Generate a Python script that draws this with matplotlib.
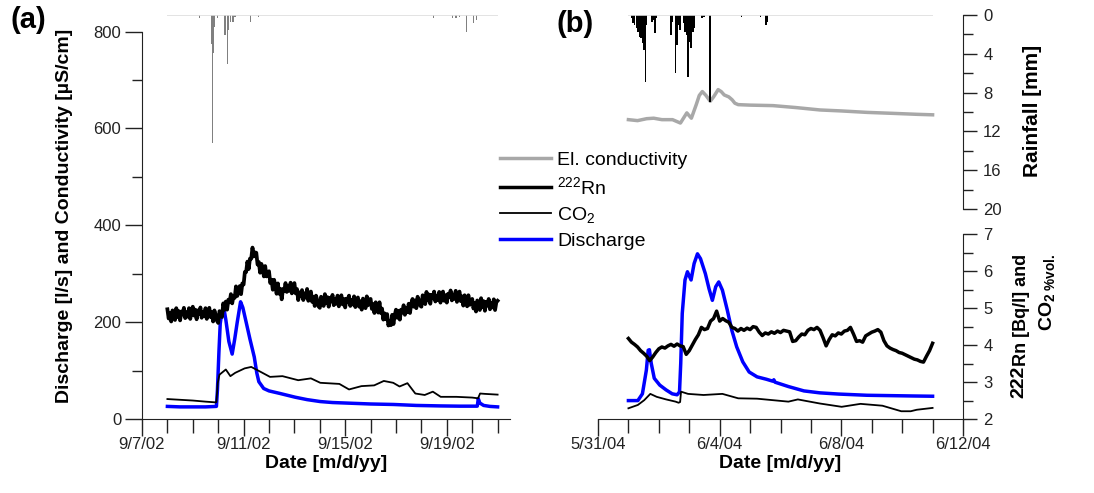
import matplotlib
matplotlib.use('Agg')
import matplotlib.pyplot as plt
from matplotlib.ticker import MultipleLocator, FixedLocator, NullLocator
import numpy as np

plt.rcParams['font.family'] = ['Liberation Sans', 'DejaVu Sans']
plt.rcParams['mathtext.fontset'] = 'custom'
plt.rcParams['mathtext.rm'] = 'Liberation Sans'
plt.rcParams['mathtext.bf'] = 'Liberation Sans:bold'
plt.rcParams['mathtext.it'] = 'Liberation Sans:italic'

# ---------------- data (a) : September 2002, x = day of month ----------------
a_ticks = [7, 11, 15, 19]
a_ticklabels = ['9/7/02', '9/11/02', '9/15/02', '9/19/02']

# Rn [Bq/l], every 0.05 day from 9/8.00 to 9/21.00 (one row per day)
rn_a_t = np.round(np.arange(8.0, 21.001, 0.05), 2)
rn_a = [4.97, 4.72, 4.87, 4.64, 4.94, 4.84, 4.68, 5.00, 4.76, 4.92, 4.67, 4.91, 4.83, 5.01, 4.73, 4.89, 4.77, 5.00, 4.71, 4.92,
        5.04, 4.80, 4.96, 4.70, 4.94, 4.84, 5.02, 4.74, 4.90, 4.78, 5.00, 4.71, 4.92, 5.01, 4.76, 4.89, 4.64, 4.94, 4.82, 4.66,
        4.60, 4.92, 4.87, 4.76, 5.13, 4.96, 5.18, 4.96, 5.23, 5.16, 5.38, 5.13, 5.32, 5.28, 5.59, 5.33, 5.51, 5.60, 5.38, 5.67,
        5.64, 5.98, 5.98, 6.26, 6.06, 6.34, 6.34, 6.64, 6.40, 6.51, 6.50, 6.18, 6.25, 5.96, 6.20, 6.06, 5.86, 6.14, 5.86, 5.98,
        6.00, 5.68, 5.77, 5.50, 5.77, 5.61, 5.39, 5.67, 5.39, 5.52, 5.24, 5.52, 5.46, 5.68, 5.44, 5.60, 5.47, 5.69, 5.40, 5.58,
        5.68, 5.40, 5.52, 5.22, 5.43, 5.32, 5.49, 5.22, 5.40, 5.29, 5.52, 5.20, 5.38, 5.45, 5.17, 5.31, 5.06, 5.34, 5.22, 5.05,
        5.01, 5.31, 5.21, 5.06, 5.38, 5.14, 5.30, 5.04, 5.28, 5.18, 5.36, 5.08, 5.24, 5.12, 5.34, 5.05, 5.26, 5.35, 5.10, 5.25,
        5.02, 5.26, 5.16, 5.34, 5.06, 5.22, 5.10, 5.32, 5.03, 5.24, 5.29, 5.04, 5.19, 4.96, 5.26, 5.16, 5.00, 5.32, 5.08, 5.24,
        5.25, 4.98, 5.11, 4.87, 5.16, 5.05, 4.88, 5.16, 4.87, 4.99, 4.69, 4.86, 4.70, 4.84, 4.53, 4.64, 4.54, 4.82, 4.57, 4.81,
        4.96, 4.74, 4.93, 4.69, 4.96, 4.88, 5.08, 4.82, 5.00, 4.89, 5.12, 4.87, 5.12, 5.25, 5.04, 5.21, 5.00, 5.31, 5.22, 5.07,
        5.04, 5.35, 5.26, 5.11, 5.44, 5.21, 5.37, 5.12, 5.36, 5.27, 5.45, 5.18, 5.34, 5.22, 5.44, 5.15, 5.36, 5.45, 5.20, 5.35,
        5.15, 5.39, 5.30, 5.48, 5.21, 5.37, 5.25, 5.47, 5.17, 5.37, 5.45, 5.19, 5.32, 5.07, 5.35, 5.23, 5.05, 5.35, 5.09, 5.22,
        5.25, 4.99, 5.14, 4.91, 5.21, 5.11, 4.95, 5.27, 5.03, 5.19, 4.93, 5.17, 5.07, 5.25, 4.97, 5.14, 5.02, 5.24, 4.95, 5.16,
        5.20]

co2_a_t = [8.0, 8.5, 9.0, 9.5, 9.9, 9.93, 9.98, 10.05, 10.3, 10.48, 10.67, 11.04,
           11.3, 11.66, 12.04, 12.53, 13.15, 13.65, 14.02, 14.27, 14.77, 15.15,
           15.64, 16.14, 16.52, 16.89, 17.14, 17.45, 17.76, 18.13, 18.45, 18.76,
           19.38, 20.0, 20.23, 20.31, 20.5, 21.0]
co2_a = [2.54, 2.52, 2.50, 2.47, 2.45, 2.46, 2.97, 3.20, 3.34, 3.16, 3.25, 3.37,
         3.41, 3.28, 3.14, 3.16, 3.05, 3.10, 2.98, 2.97, 2.95, 2.80,
         2.89, 2.91, 3.03, 2.98, 2.88, 2.97, 2.69, 2.65, 2.74, 2.60,
         2.60, 2.58, 2.56, 2.69, 2.68, 2.66]

q_a_t = [8.0, 8.5, 9.0, 9.5, 9.93, 9.97, 10.03, 10.08, 10.15, 10.22, 10.3, 10.42,
         10.55, 10.65, 10.75, 10.88, 10.97, 11.1, 11.25, 11.42, 11.52, 11.6, 11.79,
         12.0, 12.41, 13.03, 13.5, 14.02, 14.5, 15.0, 15.5, 16.0, 16.9, 17.8,
         18.75, 19.5, 20.2, 20.24, 20.3, 20.45, 20.7, 21.0]
q_a = [26, 25, 25, 25, 26, 60, 140, 197, 222, 230, 205, 160,
       134, 165, 200, 242, 230, 200, 165, 128, 95, 77, 63,
       58, 53, 45, 40, 36, 34, 33, 32, 31, 30, 28,
       27, 26.5, 26.5, 42, 33, 28, 26, 25]

rain_a_t = [9.27, 9.74, 9.77, 9.80, 9.84, 9.87, 9.98, 10.27, 10.35, 10.39, 10.49,
            10.58, 10.66, 11.26, 11.57, 18.49, 19.24, 19.36, 19.49, 19.76, 20.05, 20.17]
rain_a = [0.35, 3.0, 13.2, 3.95, 1.2, 1.0, 0.35, 2.06, 5.1, 1.55, 0.7,
          0.7, 0.17, 0.7, 0.17, 0.27, 0.27, 0.27, 0.17, 1.72, 0.86, 0.52]

# ---------------- data (b) : June 2004, x = days after 5/31/04 ----------------
b_ticks = [0, 4, 8, 12]
b_ticklabels = ['5/31/04', '6/4/04', '6/8/04', '6/12/04']

rn_b_t = np.round(np.arange(1.0, 11.05, 0.1), 1)
rn_b = [4.18, 4.08, 4.02, 3.95, 3.85, 3.78, 3.70, 3.58, 3.68, 3.80,
        3.90, 3.95, 3.92, 3.98, 4.02, 3.97, 4.03, 3.98, 3.96, 3.75,
        3.85, 4.00, 4.15, 4.28, 4.48, 4.42, 4.45, 4.65, 4.72, 4.92,
        4.65, 4.72, 4.66, 4.62, 4.48, 4.45, 4.38, 4.45, 4.40, 4.46,
        4.42, 4.50, 4.48, 4.35, 4.26, 4.33, 4.30, 4.36, 4.32, 4.38,
        4.34, 4.40, 4.38, 4.36, 4.10, 4.12, 4.22, 4.30, 4.28, 4.40,
        4.45, 4.42, 4.48, 4.40, 4.20, 3.98, 4.15, 4.28, 4.25, 4.33,
        4.30, 4.38, 4.40, 4.48, 4.30, 4.10, 4.12, 4.08, 4.25, 4.30,
        4.35, 4.38, 4.42, 4.35, 4.12, 3.98, 3.92, 3.88, 3.85, 3.80,
        3.78, 3.74, 3.70, 3.66, 3.62, 3.60, 3.56, 3.54, 3.70, 3.85,
        4.05]

co2_b_t = [1.0, 1.31, 1.52, 1.72, 1.93, 2.24, 2.55, 2.65, 2.70, 2.73, 2.96, 3.47,
           4.09, 4.61, 5.23, 6.26, 6.57, 7.29, 8.01, 8.63, 9.35, 9.97, 10.28, 10.48, 11.0]
co2_b = [2.29, 2.38, 2.51, 2.68, 2.60, 2.53, 2.47, 2.44, 2.46, 2.74, 2.68, 2.65,
         2.68, 2.56, 2.55, 2.47, 2.53, 2.42, 2.33, 2.41, 2.36, 2.21, 2.21, 2.25, 2.30]

q_b_t = [1.0, 1.31, 1.46, 1.59, 1.65, 1.69, 1.75, 1.85, 2.03, 2.24, 2.44, 2.6, 2.68,
         2.72, 2.77, 2.86, 2.94, 3.06, 3.16, 3.27, 3.37, 3.53, 3.65, 3.76, 3.87, 3.97,
         4.09, 4.25, 4.4, 4.56, 4.76, 4.97, 5.23, 5.54, 5.75, 5.78, 5.82, 6.26, 6.77,
         7.29, 7.91, 8.84, 10.38, 11.0]
q_b = [38, 38, 52, 101, 142, 143, 115, 84, 70, 60, 52, 50, 56,
       115, 218, 287, 304, 287, 321, 341, 331, 300, 269, 245, 273, 283,
       266, 225, 183, 149, 118, 97, 87, 82, 78, 81, 76, 67, 58,
       54, 51.5, 49, 47.5, 47]

ec_b_t = [1.0, 1.3, 1.6, 1.83, 2.1, 2.45, 2.71, 2.82, 2.92, 3.0, 3.07, 3.15, 3.23,
          3.33, 3.43, 3.55, 3.69, 3.8, 3.95, 4.05, 4.15, 4.3, 4.41, 4.5, 4.61, 5.0,
          5.75, 6.5, 7.3, 8.0, 8.85, 9.7, 10.5, 11.0]
ec_b = [618, 616, 620, 621, 618, 618, 611, 622, 632, 626, 621, 635, 649,
        668, 676, 668, 656, 665, 680, 676, 669, 665, 659, 652, 649, 648,
        647, 643, 638, 636, 633, 631, 629, 628]

rain_b_t = [1.104, 1.156, 1.207, 1.259, 1.310, 1.362, 1.414, 1.465, 1.517, 1.569, 1.600,
            1.775, 1.827, 1.878, 1.930, 2.394, 2.446, 2.549, 2.601, 2.652, 2.704,
            2.807, 2.858, 2.910, 2.962, 3.014, 3.065, 3.117, 3.168, 3.426, 3.478,
            3.684, 4.720, 5.336, 5.522, 5.563]
rain_b = [0.34, 0.86, 1.03, 1.37, 1.72, 2.23, 2.41, 2.92, 3.61, 6.87, 1.03,
          0.69, 0.52, 1.89, 0.34, 2.06, 0.69, 6.01, 3.09, 1.03, 1.55,
          0.86, 1.72, 2.06, 6.36, 2.75, 3.44, 1.72, 1.37, 0.34, 0.17,
          8.93, 0.17, 0.17, 1.03, 0.69]

# ---------------- layout (pixel boxes of a 1094 x 493 figure) ----------------
W, H = 1094, 493


def box(x0, y0, x1, y1):
    return [x0 / W, 1 - y1 / H, (x1 - x0) / W, (y1 - y0) / H]


fig = plt.figure(figsize=(W / 100, H / 100), dpi=100)

INK = '#222222'
BLUE = '#0000ff'
GREY = '#a8a8a8'
MAJ = 12

AX0, AX1 = 142, 510      # panel (a) x extent in px
BX0, BX1 = 598, 963      # panel (b) x extent in px
A_XMAX = 7 + (AX1 - AX0) / 25.4


def style_x(ax, ticks, labels, xmin, xmax):
    ax.set_xlim(xmin, xmax)
    ax.xaxis.set_major_locator(FixedLocator(ticks))
    ax.set_xticklabels(labels)
    ax.xaxis.set_minor_locator(MultipleLocator(1))
    ax.tick_params(axis='x', which='major', direction='out', length=MAJ, width=1,
                   color=INK, pad=1, labelsize=12, labelcolor=INK)
    ax.tick_params(axis='x', which='minor', direction='out', length=10, width=1, color=INK)
    ax.spines['bottom'].set_color(INK)
    ax.set_xlabel('Date [m/d/yy]', fontsize=14, fontweight='bold', labelpad=2)


def blank(ax):
    ax.patch.set_visible(False)
    for s in ax.spines.values():
        s.set_visible(False)
    ax.set_xticks([])
    ax.set_yticks([])


def right_axis(ax, major, minor):
    ax.patch.set_visible(False)
    ax.set_xticks([])
    for s in ['top', 'left', 'bottom']:
        ax.spines[s].set_visible(False)
    ax.spines['right'].set_color(INK)
    ax.yaxis.tick_right()
    ax.yaxis.set_major_locator(MultipleLocator(major))
    ax.yaxis.set_minor_locator(MultipleLocator(minor))
    ax.tick_params(axis='y', which='major', direction='out', length=10, width=1,
                   color=INK, pad=4.5, labelsize=12, labelcolor=INK)
    ax.tick_params(axis='y', which='minor', direction='out', length=7, width=1, color=INK)


# ---- panel (a)
axA = fig.add_axes(box(AX0, 31.5, AX1, 419))
axA.set_ylim(0, 800)
style_x(axA, a_ticks, a_ticklabels, 7, A_XMAX)
axA.yaxis.set_major_locator(MultipleLocator(200))
axA.yaxis.set_minor_locator(MultipleLocator(100))
axA.tick_params(axis='y', which='major', direction='out', length=MAJ, width=1,
                color=INK, pad=3, labelsize=12, labelcolor=INK)
axA.tick_params(axis='y', which='minor', direction='out', length=7, width=1, color=INK)
axA.spines['top'].set_visible(False)
axA.spines['right'].set_visible(False)
axA.spines['left'].set_color(INK)
axA.plot(q_a_t, q_a, color=BLUE, lw=2.5)

chemA = fig.add_axes(box(AX0, 234.3, AX1, 419))
blank(chemA)
chemA.set_xlim(7, A_XMAX)
chemA.set_ylim(2, 7)
chemA.plot(co2_a_t, co2_a, color='black', lw=1.3)
chemA.plot(rn_a_t, rn_a, color='black', lw=2.7)

rainA = fig.add_axes(box(AX0, 15, AX1, 209))
blank(rainA)
rainA.set_xlim(7, A_XMAX)
rainA.set_ylim(20, 0)
rainA.hlines(0, rn_a_t[0], rn_a_t[-1], color='#dedede', lw=1.2)
rainA.bar(rain_a_t, rain_a, width=0.045, color='#808080')

# ---- panel (b)
axB = fig.add_axes(box(BX0, 31.5, BX1, 419))
axB.set_ylim(0, 800)
style_x(axB, b_ticks, b_ticklabels, 0, 12)
axB.yaxis.set_major_locator(NullLocator())
for s in ['top', 'right', 'left']:
    axB.spines[s].set_visible(False)
l_ec, = axB.plot(ec_b_t, ec_b, color=GREY, lw=2.5)
l_q, = axB.plot(q_b_t, q_b, color=BLUE, lw=2.5)

chemB = fig.add_axes(box(BX0, 234.3, BX1, 419))
chemB.set_xlim(0, 12)
chemB.set_ylim(2, 7)
right_axis(chemB, 1, 0.5)
l_co2, = chemB.plot(co2_b_t, co2_b, color='black', lw=1.3)
l_rn, = chemB.plot(rn_b_t, rn_b, color='black', lw=2.5)

rainB = fig.add_axes(box(BX0, 15, BX1, 209))
rainB.set_xlim(0, 12)
rainB.set_ylim(20, 0)
right_axis(rainB, 4, 2)
rainB.hlines(0, rn_b_t[0], rn_b_t[-1], color='#dedede', lw=1.2)
rainB.bar(rain_b_t, rain_b, width=0.05, color='black')

# ---- labels
fig.text(10 / W, 1 - 20 / H, '(a)', fontsize=21, fontweight='bold', ha='left', va='center')
fig.text(557 / W, 1 - 24 / H, '(b)', fontsize=21, fontweight='bold', ha='left', va='center')

fig.text(65 / W, 1 - 216 / H, 'Discharge [l/s] and Conductivity [µS/cm]', rotation=90,
         fontsize=14, fontweight='bold', ha='center', va='center')
fig.text(1033 / W, 1 - 111 / H, 'Rainfall [mm]', rotation=90,
         fontsize=15, fontweight='bold', ha='center', va='center')

t_rn = fig.text(1022 / W, 1 - 254 / H, 'Rn [Bq/l] and', rotation=90,
                fontsize=13, fontweight='bold', ha='center', va='top')
chemB.annotate('222', xy=(0.5, 0), xycoords=t_rn, xytext=(-2.5, 0),
               textcoords='offset points', rotation=90, fontsize=14,
               fontweight='bold', ha='center', va='top', annotation_clip=False)
fig.text(1047 / W, 1 - 254 / H, r'CO$_{\mathbf{2\ \%vol.}}$', rotation=90,
         fontsize=14, fontweight='bold', ha='center', va='top')

fig.legend(handles=[l_ec, l_rn, l_co2, l_q],
           labels=['El. conductivity', r'$^{222}$Rn', r'CO$_2$', 'Discharge'],
           loc='upper left', bbox_to_anchor=(500 / W, 1 - 151 / H),
           frameon=False, fontsize=14, handlelength=2.6, handletextpad=0.35,
           labelspacing=0.38, borderpad=0, borderaxespad=0)

fig.savefig('out.png', dpi=100)
